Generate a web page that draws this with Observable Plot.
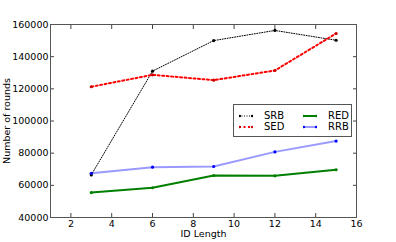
<!DOCTYPE html>
<html><head><meta charset="utf-8">
<script src="https://cdn.jsdelivr.net/npm/d3@7"></script>
<script src="https://cdn.jsdelivr.net/npm/@observablehq/plot@0.6"></script>
<style>
body{margin:0;background:#fff;font-family:"DejaVu Sans",sans-serif;}
#wrap{position:relative;width:396px;height:242px;}
#legend{position:absolute;left:233px;top:104px;width:117px;height:31px;border:1px solid #555;background:#fff;font-size:10px;}
.item{position:absolute;display:flex;align-items:center;}
.item span{margin-left:11px;}
</style></head>
<body><div id="wrap"></div>
<script>
const idLength = [3, 6, 9, 12, 15];
const srb = [66500, 131000, 150000, 156300, 150200];
const sed = [121300, 128700, 125400, 131400, 154400];
const red = [55500, 58500, 66100, 65900, 69700];
const rrb = [67500, 71300, 71700, 80800, 87500];
const xTicks = [2, 4, 6, 8, 10, 12, 14, 16];
const yTicks = [40000, 60000, 80000, 100000, 120000, 140000, 160000];

const series = [
  {name: "SRB", values: srb, stroke: "#000", width: 1, dash: "1,1.5", opacity: 1, dot: "#000"},
  {name: "SED", values: sed, stroke: "#ff0000", width: 2, dash: "2,2.5", opacity: 1, dot: "#cc0000"},
  {name: "RED", values: red, stroke: "#007f00", width: 2, dash: null, opacity: 1, dot: "#007f00"},
  {name: "RRB", values: rrb, stroke: "#0000ff", width: 2, dash: null, opacity: 0.4, dot: "#0000ff"}
];
const rows = s => idLength.map((x, i) => ({x, y: s.values[i]}));

const marks = [];
for (const s of series) {
  marks.push(Plot.line(rows(s), {x: "x", y: "y", stroke: s.stroke, strokeWidth: s.width, strokeDasharray: s.dash, strokeOpacity: s.opacity}));
}
for (const s of series) {
  marks.push(Plot.dot(rows(s), {x: "x", y: "y", r: 1.6, fill: s.dot, stroke: null}));
}

const chart = Plot.plot({
  width: 396, height: 242,
  marginLeft: 50, marginRight: 40, marginTop: 24, marginBottom: 25,
  style: {fontFamily: "DejaVu Sans, sans-serif", fontSize: "9.5px", color: "#000", background: "#fff"},
  x: {domain: [1, 16]},
  y: {domain: [40000, 160000]},
  marks: [
    Plot.axisX({ticks: xTicks, tickSize: -4, tickPadding: 6.5, tickFormat: d => String(d), label: "ID Length", labelAnchor: "center", labelArrow: "none", labelOffset: 19, stroke: "#444"}),
    Plot.axisX({anchor: "top", ticks: xTicks, tickSize: -4, tickFormat: () => "", label: null, stroke: "#444"}),
    Plot.axisY({ticks: yTicks, tickSize: -4, tickPadding: 6, tickFormat: d => String(d), label: "Number of rounds", labelAnchor: "center", labelArrow: "none", labelOffset: 47, stroke: "#444"}),
    Plot.axisY({anchor: "right", ticks: yTicks, tickSize: -4, tickFormat: () => "", label: null, stroke: "#444"}),
    ...marks,
    Plot.frame({stroke: "#555"})
  ]
});
const wrap = document.getElementById("wrap");
wrap.appendChild(chart);

const legend = document.createElement("div");
legend.id = "legend";
const pos = [[5, 5], [5, 16], [69, 5], [69, 16]];
series.forEach((s, i) => {
  const d = document.createElement("div");
  d.className = "item";
  d.style.left = pos[i][0] + "px";
  d.style.top = pos[i][1] + "px";
  d.innerHTML = `<svg width="14" height="8"><line x1="0" x2="14" y1="4" y2="4" stroke="${s.stroke}" stroke-width="${s.width}" stroke-opacity="${s.opacity}" ${s.dash ? `stroke-dasharray="${s.dash}"` : ""}/><circle cx="0.8" cy="4" r="1.3" fill="${s.dot}"/><circle cx="13.2" cy="4" r="1.3" fill="${s.dot}"/></svg><span>${s.name}</span>`;
  legend.appendChild(d);
});
wrap.appendChild(legend);
</script></body></html>
